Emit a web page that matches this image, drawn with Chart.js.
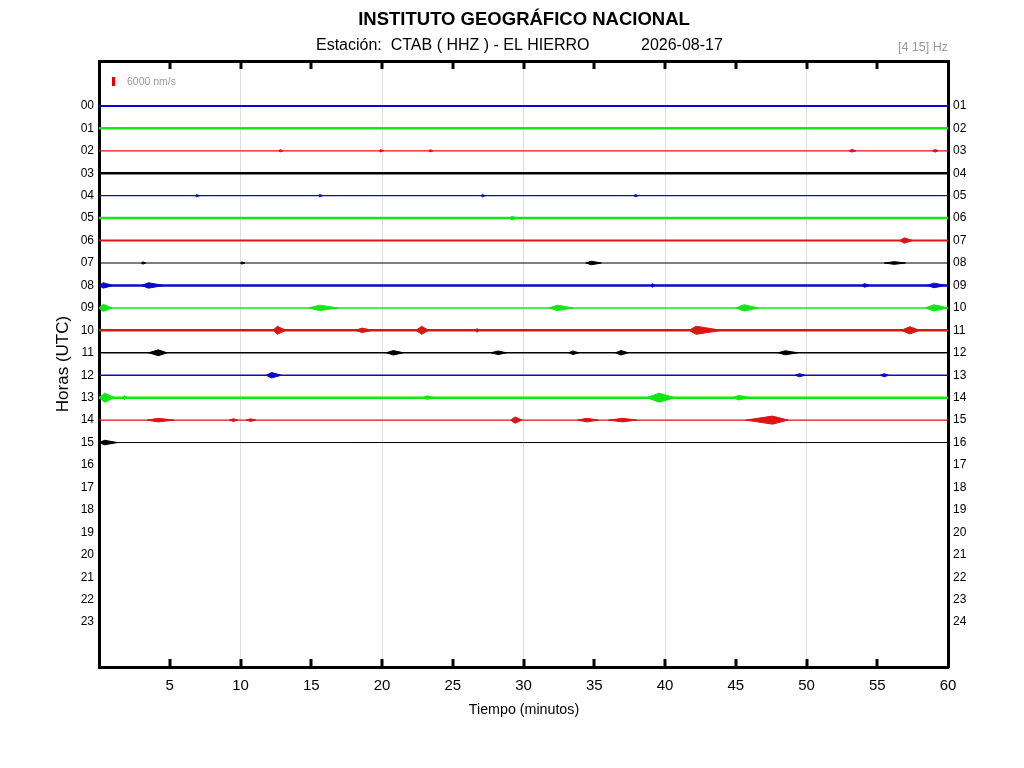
<!DOCTYPE html>
<html>
<head>
<meta charset="utf-8">
<script src="https://cdn.jsdelivr.net/npm/chart.js@4.4.1/dist/chart.umd.min.js"></script>
<style>
html,body{margin:0;padding:0;background:#fff}
#wrap{width:1024px;height:768px}
</style>
</head>
<body>
<div id="wrap"><canvas id="c" width="1024" height="768"></canvas></div>
<script>
// helicorder: one trace per hour, minutes on x
const hourLabels = ['00','01','02','03','04','05','06','07','08','09','10','11','12','13','14','15','16','17','18','19','20','21','22','23'];
const hourLabelsRight = ['01','02','03','04','05','06','07','08','09','10','11','12','13','14','15','16','17','18','19','20','21','22','23','24'];
const minuteTicks = [5, 10, 15, 20, 25, 30, 35, 40, 45, 50, 55, 60];

// end of recorded trace per hour (minutes)
const traceEnd = [60, 60, 60, 60, 60, 60, 60, 60, 60, 60, 60, 60, 60, 60, 60, 60];

// bursts per hour: [start, peak, end, amplitude in trace units]
const events = [
  [],
  [],
  [[12.7,12.8,13.0,0.05],[19.8,19.9,20.1,0.05],[23.3,23.4,23.6,0.05],[53.0,53.2,53.5,0.06],[58.9,59.1,59.3,0.06]],
  [],
  [[6.8,6.9,7.1,0.05],[15.5,15.6,15.8,0.05],[27.0,27.1,27.3,0.05],[37.8,37.9,38.1,0.05]],
  [[29.0,29.2,29.5,0.08]],
  [[56.6,56.9,57.5,0.12]],
  [[3.0,3.1,3.3,0.05],[10.0,10.1,10.3,0.05],[34.4,34.8,35.5,0.08],[55.5,56.2,57.0,0.06]],
  [[0,0.3,1.0,0.12],[3.0,3.5,4.6,0.12],[39.0,39.1,39.3,0.08],[53.9,54.1,54.5,0.08],[58.5,59.0,59.9,0.1]],
  [[0,0.3,0.9,0.16],[14.8,15.6,16.9,0.12],[31.8,32.4,33.5,0.12],[45.0,45.6,46.6,0.14],[58.4,59.0,60,0.14]],
  [[12.3,12.6,13.2,0.18],[18.1,18.6,19.3,0.1],[22.4,22.8,23.3,0.18],[26.6,26.7,26.9,0.08],[41.7,42.2,44.0,0.18],[56.7,57.3,58.0,0.16]],
  [[3.5,4.2,4.8,0.13],[20.3,20.8,21.5,0.1],[27.7,28.2,28.8,0.08],[33.2,33.5,33.9,0.08],[36.5,36.9,37.4,0.1],[48.0,48.5,49.4,0.09]],
  [[11.8,12.2,12.9,0.12],[49.2,49.5,49.9,0.07],[55.2,55.5,55.8,0.07]],
  [[0,0.4,1.1,0.2],[1.7,1.8,2.0,0.08],[22.9,23.2,23.7,0.08],[38.7,39.6,40.7,0.2],[44.8,45.2,46.0,0.1]],
  [[3.4,4.2,5.3,0.08],[9.2,9.5,9.8,0.06],[10.4,10.7,11.1,0.06],[29.1,29.4,29.9,0.14],[33.8,34.5,35.3,0.08],[36.0,37.0,38.0,0.08],[45.7,47.6,48.7,0.18]],
  [[0,0.4,1.3,0.1]]
];

const rowColors = ['#0a0ac8', '#14e614', '#dc1414', '#000000'];
const rowWidths = [2, 2.5, 1.2, 2.5, 1.2, 2.5, 2, 1.2, 2.5, 1.5, 2.5, 1.5, 1.5, 2.5, 1.2, 1];
const FONT = '"Liberation Sans", Arial, sans-serif';

const datasets = [];
for (let h = 0; h < traceEnd.length; h++) {
  const col = rowColors[h % 4];
  datasets.push({
    data: [{x: 0, y: h}, {x: traceEnd[h], y: h}],
    borderColor: col, borderWidth: rowWidths[h], showLine: true, pointRadius: 0, fill: false
  });
  events[h].forEach(function(e) {
    datasets.push({
      data: [{x: e[0], y: h}, {x: e[1], y: h - e[3]}, {x: e[2], y: h}, {x: e[1], y: h + e[3]}, {x: e[0], y: h}],
      borderColor: col, backgroundColor: col, borderWidth: 1, showLine: true, pointRadius: 0, fill: 'shape'
    });
  });
}

function squeezed(ctx, txt, x, y, sx) {
  ctx.save();
  ctx.translate(x, y);
  ctx.scale(sx, 1);
  ctx.fillText(txt, 0, 0);
  ctx.restore();
}

// texts, scale marker and inward tick marks
const decor = {
  id: 'decor',
  afterDraw(chart) {
    const ctx = chart.ctx, a = chart.chartArea, xs = chart.scales.x;
    ctx.save();
    ctx.fillStyle = '#000';
    ctx.textBaseline = 'middle';
    ctx.textAlign = 'center';
    ctx.font = 'bold 18.5px ' + FONT;
    ctx.fillText('INSTITUTO GEOGRÁFICO NACIONAL', 524, 20);
    ctx.font = '16px ' + FONT;
    ctx.textAlign = 'left';
    ctx.fillText('Estación:  CTAB ( HHZ ) - EL HIERRO', 316, 46);
    ctx.fillText('2026-08-17', 641, 46);
    ctx.fillStyle = '#999';
    ctx.font = '12.5px ' + FONT;
    ctx.textAlign = 'right';
    ctx.fillText('[4 15] Hz', 948, 48);
    // amplitude scale
    ctx.fillStyle = '#e00000';
    ctx.fillRect(112, 77, 3, 9);
    ctx.fillStyle = '#999';
    ctx.font = '10.5px ' + FONT;
    ctx.textAlign = 'left';
    ctx.fillText('6000 nm/s', 127, 82);
    // axis titles
    ctx.fillStyle = '#000';
    ctx.font = '15px ' + FONT;
    ctx.textAlign = 'center';
    squeezed(ctx, 'Tiempo (minutos)', 524, 710, 0.95);
    ctx.font = '17px ' + FONT;
    ctx.translate(63, (a.top + a.bottom) / 2);
    ctx.rotate(-Math.PI / 2);
    ctx.fillText('Horas (UTC)', 0, 0);
    ctx.restore();
    // inward ticks
    ctx.save();
    ctx.strokeStyle = '#000';
    ctx.lineWidth = 3;
    minuteTicks.forEach(function(m) {
      if (m >= 60) return;
      const px = Math.round(xs.getPixelForValue(m));
      ctx.beginPath();
      ctx.moveTo(px, a.top); ctx.lineTo(px, a.top + 8);
      ctx.moveTo(px, a.bottom); ctx.lineTo(px, a.bottom - 8);
      ctx.stroke();
    });
    ctx.restore();
  }
};

const yTickFont = {family: FONT, size: 12};

new Chart(document.getElementById('c'), {
  type: 'scatter',
  data: {datasets: datasets},
  plugins: [decor],
  options: {
    responsive: false,
    animation: false,
    layout: {padding: 0},
    plugins: {legend: {display: false}, tooltip: {enabled: false}, title: {display: false}},
    scales: {
      x: {
        type: 'linear', position: 'bottom', min: 0, max: 60,
        afterBuildTicks: function(s) { s.ticks = [0].concat(minuteTicks).map(function(v) { return {value: v}; }); },
        ticks: {callback: function(v) { return v === 0 ? '' : String(v); }, font: {family: FONT, size: 15}, color: '#000', padding: 10, maxRotation: 0, autoSkip: false},
        grid: {drawTicks: false, lineWidth: 1,
          color: function(c) { const v = c.tick ? c.tick.value : 0; return (v % 10 === 0 && v > 0 && v < 60) ? '#dddddd' : 'rgba(0,0,0,0)'; }},
        border: {color: '#000', width: 3},
        afterFit: function(s) { s.height = 101; }
      },
      x2: {
        type: 'linear', position: 'top', min: 0, max: 60,
        ticks: {display: false}, grid: {display: false, drawTicks: false},
        border: {color: '#000', width: 3},
        afterFit: function(s) { s.height = 61; }
      },
      y: {
        type: 'linear', position: 'left', min: -2, max: 25, reverse: true,
        ticks: {stepSize: 1, autoSkip: false, font: yTickFont, color: '#000', padding: 5,
          callback: function(v) { return hourLabels[v] !== undefined ? hourLabels[v] : ''; }},
        grid: {display: false, drawTicks: false},
        border: {color: '#000', width: 3},
        afterFit: function(s) { s.width = 99; }
      },
      y2: {
        type: 'linear', position: 'right', min: -2, max: 25, reverse: true,
        ticks: {stepSize: 1, autoSkip: false, font: yTickFont, color: '#000', padding: 5,
          callback: function(v) { return hourLabelsRight[v] !== undefined ? hourLabelsRight[v] : ''; }},
        grid: {display: false, drawTicks: false},
        border: {color: '#000', width: 3},
        afterFit: function(s) { s.width = 76; }
      }
    }
  }
});
</script>
</body>
</html>
